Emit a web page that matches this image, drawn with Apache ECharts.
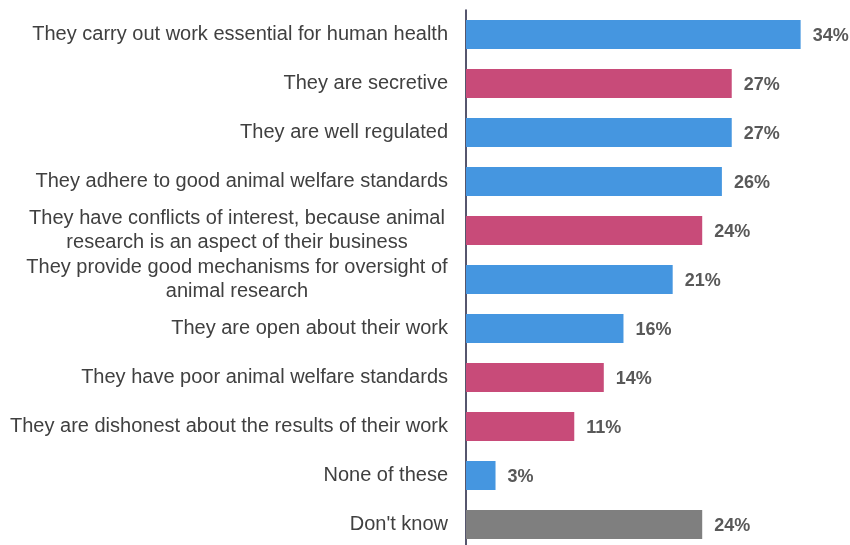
<!DOCTYPE html>
<html>
<head>
<meta charset="utf-8">
<script src="https://cdn.jsdelivr.net/npm/echarts@6/dist/echarts.min.js"></script>
<style>
  html, body { margin: 0; padding: 0; background: #ffffff; overflow: hidden; }
  #chart { width: 850px; height: 549px; }
</style>
</head>
<body>
<div id="chart"></div>
<script>
// Statements, top to bottom
const categories = [
  "They carry out work essential for human health",
  "They are secretive",
  "They are well regulated",
  "They adhere to good animal welfare standards",
  "They have conflicts of interest, because animal\nresearch is an aspect of their business",
  "They provide good mechanisms for oversight of\nanimal research",
  "They are open about their work",
  "They have poor animal welfare standards",
  "They are dishonest about the results of their work",
  "None of these",
  "Don't know"
];
// Percentage of respondents agreeing
const values = [34, 27, 27, 26, 24, 21, 16, 14, 11, 3, 24];
// Tone of each statement: positive, negative or neutral
const tones = ["pos", "neg", "pos", "pos", "neg", "pos", "pos", "neg", "neg", "pos", "none"];

const toneColors = { pos: "#4596E0", neg: "#C84B79", none: "#7F7F7F" };
const fontFamily = "'Liberation Sans', Arial, sans-serif";
const catFontSize = 20;

// Measure the widest line of each label so wrapped lines can be centred
const ctx = document.createElement("canvas").getContext("2d");
ctx.font = catFontSize + "px " + fontFamily;
function widest(text) {
  return Math.max(...text.split("\n").map(l => ctx.measureText(l).width));
}
const wrapWidth = Math.ceil(Math.max(...categories.filter(c => c.indexOf("\n") >= 0).map(widest)));

const chart = echarts.init(document.getElementById("chart"), null, { renderer: "canvas" });

chart.setOption({
  animation: false,
  grid: { left: 466, top: 10, right: 10, bottom: 0, containLabel: false },
  xAxis: {
    type: "value",
    min: 0,
    max: 38,
    show: false
  },
  yAxis: {
    type: "category",
    inverse: true,
    data: categories,
    axisLine: { show: true, lineStyle: { color: "#1E1E3C", width: 1.5 } },
    axisTick: { show: false },
    axisLabel: {
      margin: 18,
      color: "#404040",
      fontFamily: fontFamily,
      fontSize: catFontSize,
      lineHeight: 24,
      align: "right",
      formatter: function (v) {
        if (v.indexOf("\n") < 0) return v;
        return v.split("\n").map(l => "{c|" + l + "}").join("\n");
      },
      rich: {
        c: {
          width: wrapWidth,
          align: "center",
          fontSize: catFontSize,
          lineHeight: 24,
          color: "#404040",
          fontFamily: fontFamily
        }
      }
    }
  },
  series: [{
    type: "bar",
    barWidth: 29,
    data: values.map((v, i) => ({ value: v, itemStyle: { color: toneColors[tones[i]] } })),
    label: {
      show: true,
      position: "right",
      distance: 12,
      offset: [0, 2],
      formatter: "{c}%",
      color: "#595959",
      fontFamily: fontFamily,
      fontWeight: "bold",
      fontSize: 18
    }
  }]
});
</script>
</body>
</html>
